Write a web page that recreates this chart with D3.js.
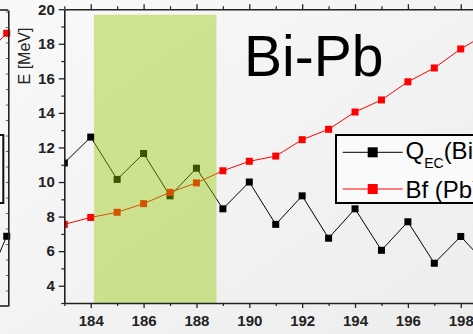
<!DOCTYPE html>
<html>
<head>
<meta charset="utf-8">
<script src="https://cdn.jsdelivr.net/npm/d3@7/dist/d3.min.js"></script>
<style>
  html, body { margin: 0; padding: 0; background: #f4f4f4; }
  svg { display: block; font-family: Arial, "Liberation Sans", sans-serif; }
</style>
</head>
<body>
<svg id="chart" width="473" height="334"></svg>
<script>
// Mass numbers and energies (MeV) for the Bi-Pb panel
const massNumbers = [183, 184, 185, 186, 187, 188, 189, 190, 191, 192, 193, 194, 195, 196, 197, 198, 199];
const qecBi = [11.1, 12.6, 10.15, 11.65, 9.2, 10.8, 8.45, 10.0, 7.55, 9.2, 6.75, 8.45, 6.05, 7.7, 5.3, 6.85, 5.2];
const bfPb = [7.55, 7.95, 8.25, 8.75, 9.4, 9.95, 10.65, 11.2, 11.5, 12.45, 13.05, 14.05, 14.75, 15.8, 16.6, 17.7, 18.6];

// Highlighted mass window
const windowMass = [184.12, 188.76];
const windowTop = 19.68;

// Tick values
const xMajorTicks = [184, 186, 188, 190, 192, 194, 196, 198, 200];
const xMinorTicks = [183, 185, 187, 189, 191, 193, 195, 197, 199];
const yMajorTicks = [4, 6, 8, 10, 12, 14, 16, 18, 20];
const yMinorTicks = [3, 5, 7, 9, 11, 13, 15, 17, 19];

// Edge of the neighbouring panel on the left
const neighbourMass = [197, 198];
const neighbourRed = [17.85, 19.6];
const neighbourBlack = [2.55, 6.5];
const neighbourTicks = [3, 4, 5, 6, 7, 8, 9, 10, 11, 12, 13, 14, 15, 16, 17, 18, 19, 20, 21];

const legendLabels = ["Q", "Bf (Pb)"];

const svg = d3.select("#chart");
const W = 473, H = 334;

// background gradient
const defs = svg.append("defs");
const grad = defs.append("linearGradient").attr("id", "bg")
  .attr("x1", "0").attr("y1", "0").attr("x2", "1").attr("y2", "1");
grad.append("stop").attr("offset", "0").attr("stop-color", "#f9f9f9");
grad.append("stop").attr("offset", "1").attr("stop-color", "#ededed");
svg.append("rect").attr("width", W).attr("height", H).attr("fill", "url(#bg)");

const x = d3.scaleLinear().domain([183, 200]).range([64.3, 64.3 + 17 * 26.43]);
const y = d3.scaleLinear().domain([3, 20]).range([303, 9.2]);

const plotLeft = x(183), plotTop = y(20), plotBottom = y(3);

defs.append("clipPath").attr("id", "plotClip")
  .append("rect").attr("x", plotLeft).attr("y", plotTop)
  .attr("width", x(200) - plotLeft).attr("height", plotBottom - plotTop);

// ---- neighbouring panel (right edge only) ----
const nx = d3.scaleLinear().domain([197, 198.06]).range([-19.6, 8.3]);
const ny = d3.scaleLinear().domain([2, 21.1]).range([306, 10]);
const nb = svg.append("g");
nb.append("rect").attr("x", -100).attr("y", 135).attr("width", 103.3).attr("height", 68)
  .attr("fill", "#fafafa").attr("stroke", "#111").attr("stroke-width", 2);
const nLine = d3.line().x((d, i) => nx(neighbourMass[i])).y(d => ny(d));
nb.append("path").attr("d", nLine(neighbourRed)).attr("fill", "none").attr("stroke", "#ff0000").attr("stroke-width", 1);
nb.append("path").attr("d", nLine(neighbourBlack)).attr("fill", "none").attr("stroke", "#000").attr("stroke-width", 1);
nb.append("rect").attr("x", nx(198) - 3.5).attr("y", ny(neighbourRed[1]) - 3.5).attr("width", 7).attr("height", 7).attr("fill", "#ff0000");
nb.append("rect").attr("x", nx(198) - 3.5).attr("y", ny(neighbourBlack[1]) - 3.5).attr("width", 7).attr("height", 7).attr("fill", "#000");
const nAxis = nb.append("g").attr("transform", `translate(${nx(198.06)},0)`)
  .call(d3.axisLeft(ny).tickValues(neighbourTicks).tickSize(2.5).tickSizeOuter(0).tickFormat(""));
nAxis.select(".domain").attr("stroke", "#222").attr("stroke-width", 1.6);
nAxis.selectAll(".tick line").attr("stroke", "#666").attr("stroke-width", 1);
nb.append("line").attr("x1", 0).attr("x2", nx(198.06)).attr("y1", 10).attr("y2", 10).attr("stroke", "#222").attr("stroke-width", 1.6);
nb.append("line").attr("x1", 0).attr("x2", nx(198.06)).attr("y1", 306).attr("y2", 306).attr("stroke", "#222").attr("stroke-width", 1.6);

// ---- main panel data ----
const plot = svg.append("g").attr("clip-path", "url(#plotClip)");
const line = d3.line().x((d, i) => x(massNumbers[i])).y(d => y(d));

plot.append("path").attr("d", line(qecBi)).attr("fill", "none").attr("stroke", "#000").attr("stroke-width", 1);
plot.append("path").attr("d", line(bfPb)).attr("fill", "none").attr("stroke", "#ff0000").attr("stroke-width", 1);

const ms = 7;
plot.selectAll(".mq").data(qecBi).enter().append("rect")
  .attr("x", (d, i) => x(massNumbers[i]) - ms / 2).attr("y", d => y(d) - ms / 2)
  .attr("width", ms).attr("height", ms).attr("fill", "#000");
plot.selectAll(".mb").data(bfPb).enter().append("rect")
  .attr("x", (d, i) => x(massNumbers[i]) - ms / 2).attr("y", d => y(d) - ms / 2)
  .attr("width", ms).attr("height", ms).attr("fill", "#ff0000");

// translucent highlight over the data
plot.append("rect")
  .attr("x", x(windowMass[0])).attr("y", y(windowTop))
  .attr("width", x(windowMass[1]) - x(windowMass[0]))
  .attr("height", y(3) - y(windowTop))
  .attr("fill", "rgb(150,200,0)").attr("fill-opacity", 0.42);

// ---- axes ----
function styleAxis(g) {
  g.select(".domain").attr("stroke", "#222").attr("stroke-width", 1.6);
  g.selectAll(".tick line").attr("stroke", "#222").attr("stroke-width", 1.3);
}

const xb = svg.append("g").attr("transform", `translate(0,${plotBottom})`)
  .call(d3.axisBottom(x).tickValues(xMajorTicks).tickSize(5).tickSizeOuter(0).tickPadding(7).tickFormat(d3.format("d")));
styleAxis(xb);
xb.selectAll("text").attr("font-size", 15).attr("font-weight", "bold").attr("fill", "#222")
  .attr("font-family", "Arial, 'Liberation Sans', sans-serif");
svg.append("g").attr("transform", `translate(0,${plotBottom})`)
  .call(d3.axisBottom(x).tickValues(xMinorTicks).tickSize(3).tickFormat(""))
  .call(g => { g.select(".domain").remove(); g.selectAll(".tick line").attr("stroke", "#222").attr("stroke-width", 1.2); });

const xt = svg.append("g").attr("transform", `translate(0,${plotTop})`)
  .call(d3.axisTop(x).tickValues(xMajorTicks).tickSize(5).tickSizeOuter(0).tickFormat(""));
styleAxis(xt);
svg.append("g").attr("transform", `translate(0,${plotTop})`)
  .call(d3.axisTop(x).tickValues(xMinorTicks).tickSize(3).tickFormat(""))
  .call(g => { g.select(".domain").remove(); g.selectAll(".tick line").attr("stroke", "#222").attr("stroke-width", 1.2); });

const yl = svg.append("g").attr("transform", `translate(${plotLeft},0)`)
  .call(d3.axisLeft(y).tickValues(yMajorTicks).tickSize(5.5).tickSizeOuter(0).tickPadding(4).tickFormat(d3.format("d")));
styleAxis(yl);
yl.selectAll("text").attr("font-size", 15).attr("font-weight", "bold").attr("fill", "#222")
  .attr("font-family", "Arial, 'Liberation Sans', sans-serif");
svg.append("g").attr("transform", `translate(${plotLeft},0)`)
  .call(d3.axisLeft(y).tickValues(yMinorTicks).tickSize(3).tickFormat(""))
  .call(g => { g.select(".domain").remove(); g.selectAll(".tick line").attr("stroke", "#222").attr("stroke-width", 1.2); });

// axis title
svg.append("text")
  .attr("transform", "translate(29.5,56) rotate(-90)")
  .attr("text-anchor", "middle")
  .attr("font-size", 16).attr("fill", "#222")
  .text("E [MeV]");

// panel title
svg.append("text").attr("x", 244).attr("y", 76)
  .attr("font-size", 57).attr("fill", "#000")
  .text("Bi-Pb");

// ---- legend ----
const lg = svg.append("g");
lg.append("rect").attr("x", 336).attr("y", 135).attr("width", 200).attr("height", 68)
  .attr("fill", "#fafafa").attr("stroke", "#000").attr("stroke-width", 2);
const rows = [
  { yy: 152.3, color: "#000" },
  { yy: 189, color: "#ff0000" }
];
rows.forEach(r => {
  lg.append("line").attr("x1", 342.7).attr("x2", 402.7).attr("y1", r.yy).attr("y2", r.yy)
    .attr("stroke", r.color).attr("stroke-width", 1);
  lg.append("rect").attr("x", 372.7 - 5).attr("y", r.yy - 5).attr("width", 10).attr("height", 10).attr("fill", r.color);
});
const t1 = lg.append("text").attr("x", 405.5).attr("y", 159).attr("font-size", 24).attr("fill", "#000");
t1.append("tspan").text(legendLabels[0]);
t1.append("tspan").attr("font-size", 14).attr("dy", 9).text("EC");
t1.append("tspan").attr("dy", -9).text("(Bi)");
lg.append("text").attr("x", 405.5).attr("y", 197.5).attr("font-size", 24).attr("fill", "#000")
  .text(legendLabels[1]);
</script>
</body>
</html>
